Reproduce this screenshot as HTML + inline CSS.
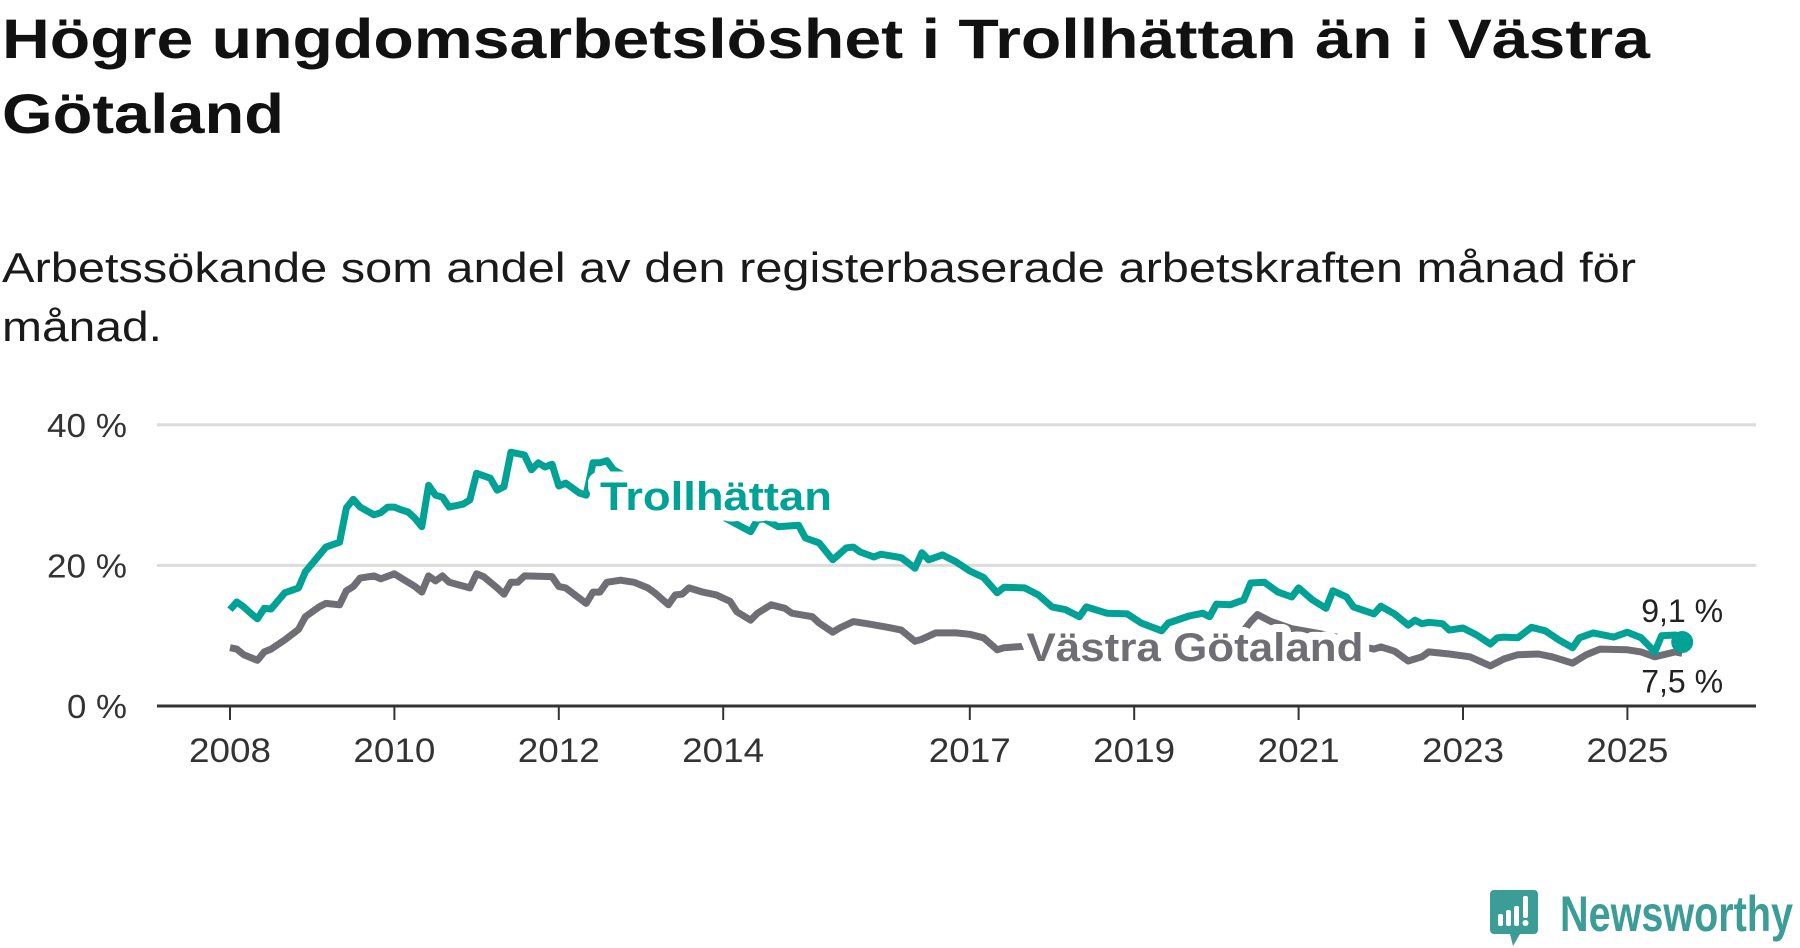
<!DOCTYPE html>
<html><head><meta charset="utf-8">
<style>
html,body{margin:0;padding:0;background:#fff;}
svg{display:block;font-family:"Liberation Sans",sans-serif;}
</style></head>
<body>
<svg id="chart" width="1800" height="948" viewBox="0 0 1800 948" xmlns="http://www.w3.org/2000/svg">
<text font-weight="bold" font-size="56" fill="#111" x="2" y="58" textLength="1648" lengthAdjust="spacingAndGlyphs">Högre ungdomsarbetslöshet i Trollhättan än i Västra</text>
<text font-weight="bold" font-size="56" fill="#111" x="2" y="133" textLength="282" lengthAdjust="spacingAndGlyphs">Götaland</text>
<text font-size="42" fill="#1a1a1a" x="2" y="282" textLength="1634" lengthAdjust="spacingAndGlyphs">Arbetssökande som andel av den registerbaserade arbetskraften månad för</text>
<text font-size="42" fill="#1a1a1a" x="2" y="341" textLength="160" lengthAdjust="spacingAndGlyphs">månad.</text>
<g id="plot"></g>
<g>
<path d="M1494 890 h40 a4 4 0 0 1 4 4 v36 a4 4 0 0 1 -4 4 h-14 l-7 12 l-3 -12 h-16 a4 4 0 0 1 -4 -4 v-36 a4 4 0 0 1 4 -4z" fill="#3c9d96"/>
<rect x="1498" y="914" width="5" height="12" rx="2" fill="#fff"/>
<rect x="1506" y="910" width="5" height="16" rx="2" fill="#fff"/>
<rect x="1514" y="906" width="5" height="20" rx="2" fill="#fff"/>
<rect x="1523" y="896" width="5" height="22" rx="2" fill="#fff"/>
<circle cx="1525.5" cy="923" r="3" fill="#fff"/>
<text font-size="50" font-weight="bold" fill="#3c9d96" x="1560" y="931" textLength="233" lengthAdjust="spacingAndGlyphs">Newsworthy</text>
</g>
</svg>
<script>
const yTicks = [0, 20, 40];
const yTickLabels = ["0 %", "20 %", "40 %"];
const xTickYears = [2008, 2010, 2012, 2014, 2017, 2019, 2021, 2023, 2025];
// months since Jan 2008
const trollMonths = [0,1,2,3,4,5,6,8,10,11,14,16,17,18,19,21,22,23,24,25,26,27,28,29,30,31,32,34,35,36,38,39,40,41,43,44,45,46,47,48,49,51,52,53,54,55,56,60,64,69,72,76,77,78,80,83,84,86,88,90,91,92,94,95,98,100,101,102,104,106,108,110,112,113,116,118,120,122,124,125,128,131,133,136,137,140,142,143,144,146,148,149,151,153,155,156,158,160,161,163,164,167,168,170,172,173,174,175,177,178,180,182,184,185,186,188,190,192,194,196,197,199,202,204,206,208,209,211,212];
const trollValues = [13.7,14.8,14.1,13.2,12.4,13.9,13.8,16.1,16.8,19.1,22.6,23.3,28.2,29.4,28.3,27.2,27.5,28.3,28.3,27.9,27.6,26.7,25.5,31.4,30.0,29.7,28.3,28.7,29.3,33.1,32.4,30.7,31.2,36.1,35.7,33.6,34.6,34.0,34.4,31.3,31.7,30.3,30.0,34.6,34.6,34.9,33.6,31.5,30.0,28.5,26.9,24.8,26.5,26.6,25.5,25.7,23.9,23.2,20.8,22.5,22.6,21.9,21.2,21.6,21.1,19.6,21.8,20.8,21.5,20.5,19.2,18.3,16.1,16.9,16.8,15.8,14.1,13.7,12.7,14.1,13.2,13.1,11.8,10.7,11.8,12.8,13.2,12.7,14.5,14.4,15.1,17.5,17.6,16.2,15.5,16.8,15.1,13.9,16.4,15.5,14.1,13.1,14.2,13.1,11.5,12.2,11.7,11.9,11.7,10.8,11.1,10.1,8.8,9.7,9.8,9.7,11.2,10.7,9.4,8.3,9.7,10.4,9.8,10.5,9.7,7.7,10.0,10.1,9.1];
const vgMonths = [0,1,2,4,5,6,8,10,11,13,14,16,17,18,19,21,22,24,25,27,28,29,30,31,32,35,36,37,39,40,41,42,43,47,48,49,52,53,54,55,57,59,61,62,64,65,66,67,69,71,73,74,76,77,79,81,82,85,86,88,89,91,93,96,98,100,101,103,106,108,110,112,113,116,121,126,131,136,140,145,147,149,150,152,155,159,163,165,167,168,170,172,174,175,178,181,184,186,188,191,193,196,198,200,204,206,208,211,212];
const vgValues = [8.3,8.1,7.3,6.5,7.7,8.1,9.4,10.9,12.7,14.1,14.6,14.4,16.4,17.0,18.2,18.5,18.1,18.8,18.2,17.0,16.2,18.5,17.8,18.5,17.6,16.8,18.8,18.4,16.8,15.9,17.6,17.6,18.5,18.4,17.0,16.8,14.6,16.2,16.2,17.6,17.9,17.6,16.8,16.1,14.4,15.8,15.9,16.8,16.2,15.8,14.9,13.4,12.2,13.2,14.4,13.9,13.2,12.7,11.8,10.5,11.1,12.0,11.7,11.2,10.8,9.2,9.5,10.4,10.4,10.2,9.7,8.0,8.3,8.5,8.0,7.5,7.6,7.0,7.8,8.6,9.5,12.0,13.0,12.0,11.0,10.3,9.5,8.5,8.1,8.4,7.8,6.4,7.0,7.7,7.4,7.0,5.7,6.7,7.3,7.4,7.0,6.1,7.3,8.1,8.0,7.7,7.0,7.7,7.5];
const trollLast = "9,1 %";
const vgLast = "7,5 %";

const NS = "http://www.w3.org/2000/svg";
const plot = document.getElementById("plot");
const x = m => 230 + m * 82.2 / 12;
const y = v => 706 - v * 7.03;
function mk(tag, attrs, parent) {
  const e = document.createElementNS(NS, tag);
  for (const k in attrs) e.setAttribute(k, attrs[k]);
  (parent || plot).appendChild(e);
  return e;
}
yTicks.forEach((t, i) => {
  if (t !== 0) {
    const g = mk("line", {x1: 157, x2: 1756, y1: y(t), y2: y(t), stroke: "#dcdcdc", "stroke-width": 3});
    
    
  }
  const lab = yTickLabels[i];
  const l = mk("text", {x: 127, y: y(t) + 12, "text-anchor": "end", "font-size": 33, fill: "#333", textLength: lab.length > 3 ? 80 : 60, lengthAdjust: "spacingAndGlyphs"});
  l.textContent = lab;
  
  
});
xTickYears.forEach(yr => {
  const xm = x((yr - 2008) * 12);
  const tk = mk("line", {x1: xm, x2: xm, y1: 706, y2: 720, stroke: "#333", "stroke-width": 2});
  
  
  const l = mk("text", {x: xm, y: 762, "text-anchor": "middle", "font-size": 34, fill: "#333", textLength: 82, lengthAdjust: "spacingAndGlyphs"});
  l.textContent = yr;
  
  
});
function pathD(ms, vs) { return ms.map((m, i) => (i ? "L" : "M") + x(m).toFixed(1) + " " + y(vs[i]).toFixed(1)).join(" "); }
const vgLine = mk("path", {d: pathD(vgMonths, vgValues), fill: "none", stroke: "#6f6e74", "stroke-width": 7, "stroke-linejoin": "round"});


const trLine = mk("path", {d: pathD(trollMonths, trollValues), fill: "none", stroke: "#00a295", "stroke-width": 7, "stroke-linejoin": "round"});


const axis = mk("line", {x1: 157, x2: 1756, y1: 706, y2: 706, stroke: "#333", "stroke-width": 3});


const lt = mk("text", {x: 716, y: 510, "text-anchor": "middle", "font-size": 40, "font-weight": "bold", fill: "#00a295", stroke: "#fff", "stroke-width": 22, "paint-order": "stroke", "stroke-linejoin": "round", textLength: 232, lengthAdjust: "spacingAndGlyphs"});
lt.textContent = "Trollhättan";


const lv = mk("text", {x: 1195, y: 661, "text-anchor": "middle", "font-size": 40, "font-weight": "bold", fill: "#6f6e74", stroke: "#fff", "stroke-width": 16, "paint-order": "stroke", "stroke-linejoin": "round", textLength: 337, lengthAdjust: "spacingAndGlyphs"});
lv.textContent = "Västra Götaland";


const lastM = trollMonths[trollMonths.length - 1];
const dot = mk("circle", {cx: x(lastM), cy: y(trollValues[trollValues.length - 1]), r: 11, fill: "#00a295"});


const e1 = mk("text", {x: x(lastM), y: y(trollValues[trollValues.length - 1]) - 20, "text-anchor": "middle", "font-size": 32, fill: "#222", textLength: 82, lengthAdjust: "spacingAndGlyphs"});
e1.textContent = trollLast;


const e2 = mk("text", {x: x(vgMonths[vgMonths.length - 1]), y: y(vgValues[vgValues.length - 1]) + 39, "text-anchor": "middle", "font-size": 32, fill: "#222", textLength: 82, lengthAdjust: "spacingAndGlyphs"});
e2.textContent = vgLast;


</script>
</body></html>
